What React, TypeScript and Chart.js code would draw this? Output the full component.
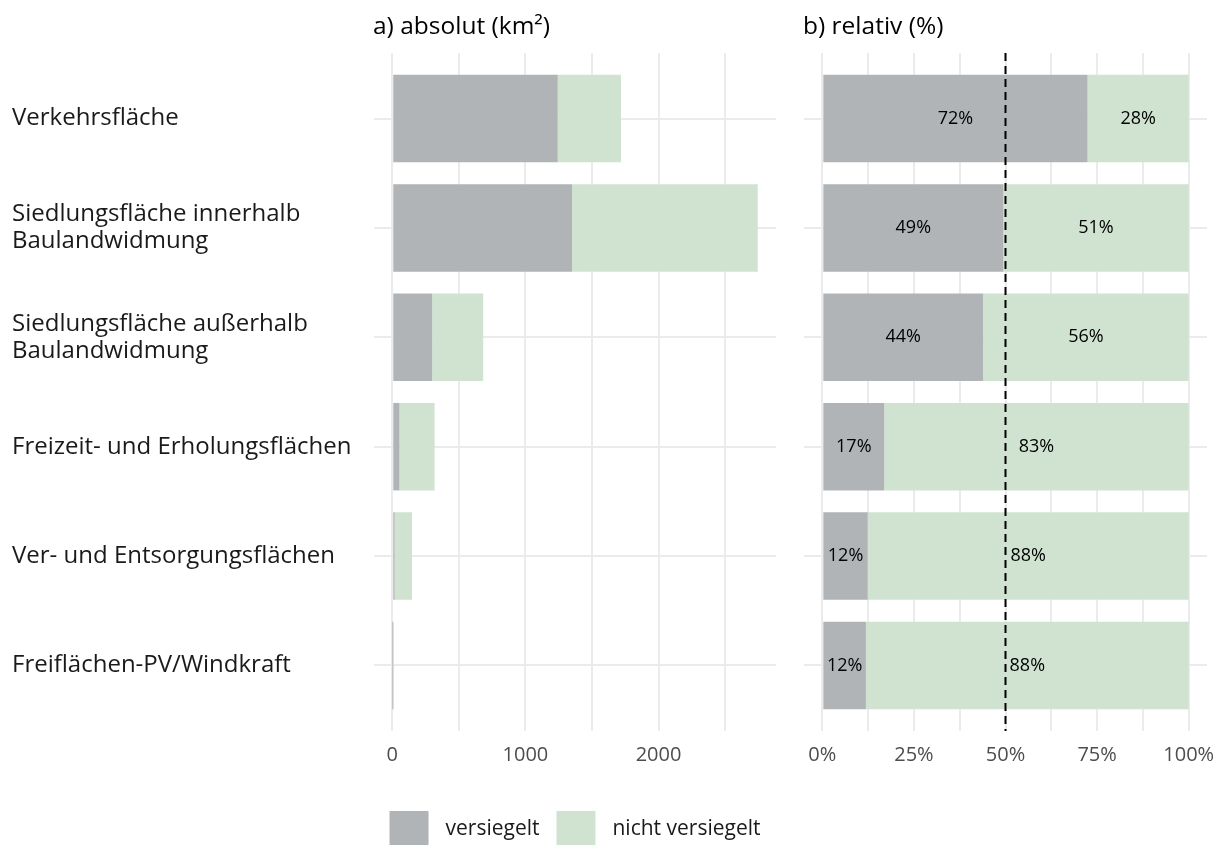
import React, { useEffect, useRef } from "react";
import { Chart, registerables } from "chart.js";

Chart.register(...registerables);

// ---------- data ----------
const categories: (string | string[])[] = [
  "Verkehrsfläche",
  ["Siedlungsfläche innerhalb", "Baulandwidmung"],
  ["Siedlungsfläche außerhalb", "Baulandwidmung"],
  "Freizeit- und Erholungsflächen",
  "Ver- und Entsorgungsflächen",
  "Freiflächen-PV/Windkraft",
];
const seriesNames = ["versiegelt", "nicht versiegelt"];
const absVersiegelt = [1243, 1350, 300, 54, 18, 1];
const absNichtVersiegelt = [475, 1395, 383, 264, 130, 8];
const pctVersiegelt = [72.4, 49.4, 43.9, 16.9, 12.4, 11.9];
const pctNichtVersiegelt = [27.6, 50.6, 56.1, 83.1, 87.6, 88.1];
const absTicks = [0, 500, 1000, 1500, 2000, 2500];
const absTickLabels = ["0", "", "1000", "", "2000", ""];
const pctTicks = [0, 12.5, 25, 37.5, 50, 62.5, 75, 87.5, 100];
const pctTickLabels = ["0%", "", "25%", "", "50%", "", "75%", "", "100%"];
const referenceLine = 50;
const panelTitles = ["a) absolut (km²)", "b) relativ (%)"];

// ---------- style ----------
const FONT = "'Open Sans'";
const GRAY = "#b1b4b6";
const GREEN = "#cfe3d0";
const GRID = "#ebebeb";
const W = 1223;
const H = 845;
const LEFT_W = 790;

const titlePlugin = (title: string) => ({
  id: "panelTitle",
  afterDraw(chart: any) {
    const { ctx, chartArea } = chart;
    ctx.save();
    ctx.font = `24.5px ${FONT}`;
    ctx.fillStyle = "#000";
    ctx.textAlign = "left";
    ctx.textBaseline = "alphabetic";
    ctx.fillText(title, chartArea.left - 1, 34);
    ctx.restore();
  },
});

const legendPlugin = {
  id: "customLegend",
  afterDraw(chart: any) {
    const { ctx, chartArea } = chart;
    ctx.save();
    ctx.font = `21px ${FONT}`;
    const box = 39;
    const gapText = 17;
    const gapItem = 17;
    const colors = [GRAY, GREEN];
    const widths = seriesNames.map((n) => ctx.measureText(n).width);
    const total =
      widths.reduce((a, b) => a + b, 0) + 2 * (box + gapText) + gapItem;
    let x = (chartArea.left + chartArea.right) / 2 - total / 2;
    const top = 811;
    seriesNames.forEach((n, i) => {
      ctx.fillStyle = colors[i];
      ctx.fillRect(x, top, box, box);
      ctx.fillStyle = "#1a1a1a";
      ctx.textAlign = "left";
      ctx.textBaseline = "middle";
      ctx.fillText(n, x + box + gapText, top + box / 2 - 1);
      x += box + gapText + widths[i] + gapItem;
    });
    ctx.restore();
  },
};

const refLinePlugin = {
  id: "refLine",
  afterDatasetsDraw(chart: any) {
    const { ctx, chartArea, scales } = chart;
    const x = scales.x.getPixelForValue(referenceLine);
    ctx.save();
    ctx.strokeStyle = "#000";
    ctx.lineWidth = 2;
    ctx.setLineDash([8, 5]);
    ctx.beginPath();
    ctx.moveTo(x, chartArea.top);
    ctx.lineTo(x, chartArea.bottom);
    ctx.stroke();
    ctx.restore();
  },
};

const pctLabelPlugin = {
  id: "pctLabels",
  afterDraw(chart: any) {
    const { ctx } = chart;
    ctx.save();
    ctx.font = `18px ${FONT}`;
    ctx.fillStyle = "#000";
    ctx.textAlign = "center";
    ctx.textBaseline = "middle";
    chart.data.datasets.forEach((ds: any, di: number) => {
      const meta = chart.getDatasetMeta(di);
      meta.data.forEach((bar: any, i: number) => {
        const v = ds.data[i].x;
        const cx = (bar.x + bar.base) / 2;
        ctx.fillText(`${Math.round(v)}%`, cx, bar.y);
      });
    });
    ctx.restore();
  },
};

const toPoints = (vals: number[]) => vals.map((v, i) => ({ x: v, y: i }));

const yScale = (showLabels: boolean, width: number) => ({
  type: "linear" as const,
  bounds: "data" as const,
  offset: false,
  min: -0.6,
  max: categories.length - 0.4,
  reverse: true,
  stacked: true,
  afterBuildTicks: (s: any) => {
    s.ticks = categories.map((_, i) => ({ value: i }));
  },
  afterFit: (s: any) => {
    s.width = width;
    s.paddingTop = 0;
    s.paddingBottom = 0;
  },
  grid: { color: GRID, lineWidth: 2, drawTicks: false, offset: false },
  border: { display: false },
  ticks: {
    display: showLabels,
    autoSkip: false,
    crossAlign: "far" as const,
    padding: 0,
    color: "#1a1a1a",
    font: { family: FONT, size: 24, lineHeight: 1.12 },
    callback: (v: any) => categories[v] ?? "",
  },
});

const xScale = (min: number, max: number, ticks: number[], labels: string[]) => ({
  type: "linear" as const,
  bounds: "data" as const,
  offset: false,
  min,
  max,
  stacked: true,
  afterBuildTicks: (s: any) => {
    s.ticks = ticks.map((v) => ({ value: v }));
  },
  afterFit: (s: any) => {
    s.height = 69;
    s.paddingLeft = 0;
    s.paddingRight = 0;
  },
  grid: { color: GRID, lineWidth: 2, drawTicks: false },
  border: { display: false },
  ticks: {
    autoSkip: false,
    maxRotation: 0,
    padding: 12,
    color: "#4d4d4d",
    font: { family: FONT, size: 20 },
    callback: (v: any) => {
      const idx = ticks.indexOf(v);
      return idx >= 0 ? labels[idx] : "";
    },
  },
});

const datasetsFrom = (a: number[], b: number[]) => [
  {
    label: seriesNames[0],
    data: toPoints(a),
    backgroundColor: GRAY,
    borderWidth: 0,
    barPercentage: 0.8,
    categoryPercentage: 1,
  },
  {
    label: seriesNames[1],
    data: toPoints(b),
    backgroundColor: GREEN,
    borderWidth: 0,
    barPercentage: 0.8,
    categoryPercentage: 1,
  },
];

export default function App() {
  const leftRef = useRef<HTMLCanvasElement>(null);
  const rightRef = useRef<HTMLCanvasElement>(null);

  useEffect(() => {
    const totals = absVersiegelt.map((v, i) => v + absNichtVersiegelt[i]);
    const maxTotal = Math.max(...totals);

    const left = new Chart(leftRef.current!, {
      type: "bar",
      data: { datasets: datasetsFrom(absVersiegelt, absNichtVersiegelt) as any },
      options: {
        indexAxis: "y",
        responsive: false,
        animation: false,
        devicePixelRatio: 1,
        layout: { padding: { left: 12, top: 53, right: LEFT_W - 776, bottom: 45 } },
        plugins: { legend: { display: false }, tooltip: { enabled: false }, title: { display: false } },
        scales: {
          x: xScale(-0.05 * maxTotal, 1.05 * maxTotal, absTicks, absTickLabels) as any,
          y: yScale(true, 362) as any,
        },
      },
      plugins: [titlePlugin(panelTitles[0]), legendPlugin],
    });

    const right = new Chart(rightRef.current!, {
      type: "bar",
      data: { datasets: datasetsFrom(pctVersiegelt, pctNichtVersiegelt) as any },
      options: {
        indexAxis: "y",
        responsive: false,
        animation: false,
        devicePixelRatio: 1,
        layout: { padding: { left: 804 - LEFT_W, top: 53, right: W - 1207, bottom: 45 } },
        plugins: { legend: { display: false }, tooltip: { enabled: false }, title: { display: false } },
        scales: {
          x: xScale(-5, 105, pctTicks, pctTickLabels) as any,
          y: yScale(false, 0) as any,
        },
      },
      plugins: [titlePlugin(panelTitles[1]), refLinePlugin, pctLabelPlugin],
    });

    return () => {
      left.destroy();
      right.destroy();
    };
  }, []);

  return (
    <div style={{ position: "absolute", left: 0, top: 0, width: W, height: H, background: "#fff", overflow: "hidden" }}>
      <canvas ref={leftRef} width={LEFT_W} height={H} style={{ position: "absolute", left: 0, top: 0, width: LEFT_W, height: H }} />
      <canvas ref={rightRef} width={W - LEFT_W} height={H} style={{ position: "absolute", left: LEFT_W, top: 0, width: W - LEFT_W, height: H }} />
    </div>
  );
}
